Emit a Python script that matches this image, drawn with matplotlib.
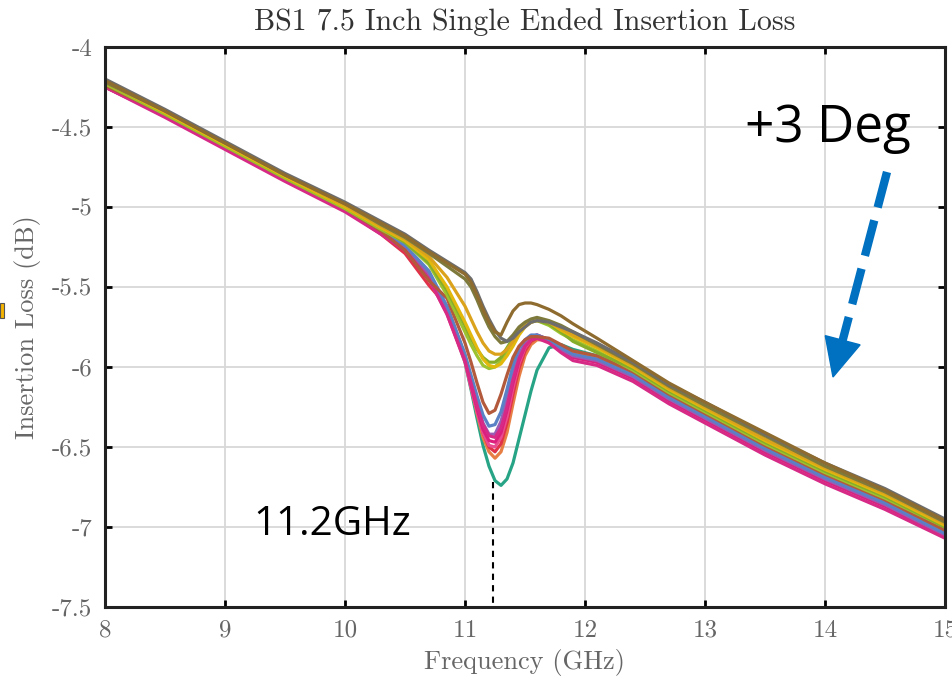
import matplotlib
matplotlib.use('Agg')
import matplotlib.pyplot as plt
from matplotlib.patches import Polygon, Rectangle
from matplotlib.lines import Line2D

plt.rcParams['axes.unicode_minus'] = False

# frequency grid (GHz), finer around the resonance dip
freq_ghz = [8.0, 8.5, 9.0, 9.5, 10.0, 10.3, 10.5, 10.7, 10.85, 11.0, 11.05, 11.1, 11.15,
            11.2, 11.25, 11.3, 11.35, 11.4, 11.45, 11.5, 11.55, 11.6, 11.7, 11.8, 11.9,
            12.1, 12.4, 12.7, 13.0, 13.5, 14.0, 14.5, 15.0]

# insertion loss curves (dB)
il_teal = [-4.23, -4.42, -4.62, -4.82, -5.01, -5.15, -5.25, -5.43, -5.65, -5.97, -6.14, -6.32, -6.49,
           -6.62, -6.71, -6.74, -6.70, -6.60, -6.45, -6.30, -6.15, -6.02, -5.88, -5.86, -5.89,
           -5.93, -6.03, -6.17, -6.29, -6.49, -6.67, -6.83, -7.02]
il_orange = [-4.24, -4.42, -4.62, -4.82, -5.01, -5.15, -5.25, -5.43, -5.65, -5.96, -6.12, -6.29, -6.44,
             -6.53, -6.57, -6.53, -6.41, -6.23, -6.06, -5.93, -5.86, -5.83, -5.83, -5.87, -5.91,
             -5.94, -6.04, -6.18, -6.30, -6.50, -6.68, -6.84, -7.03]
il_red = [-4.25, -4.43, -4.63, -4.83, -5.02, -5.17, -5.29, -5.49, -5.62, -5.93, -6.10, -6.26, -6.41,
          -6.50, -6.53, -6.48, -6.35, -6.17, -6.01, -5.90, -5.84, -5.82, -5.84, -5.88, -5.93,
          -5.96, -6.06, -6.20, -6.32, -6.52, -6.70, -6.86, -7.04]
il_pink = [-4.24, -4.43, -4.63, -4.83, -5.02, -5.16, -5.26, -5.45, -5.67, -5.97, -6.13, -6.28, -6.41,
           -6.49, -6.50, -6.44, -6.31, -6.13, -5.98, -5.88, -5.83, -5.81, -5.84, -5.89, -5.94,
           -5.97, -6.07, -6.21, -6.33, -6.53, -6.71, -6.87, -7.05]
il_magenta = [-4.25, -4.43, -4.63, -4.83, -5.02, -5.16, -5.26, -5.44, -5.66, -5.96, -6.11, -6.26, -6.39,
              -6.46, -6.47, -6.41, -6.27, -6.10, -5.96, -5.87, -5.82, -5.80, -5.83, -5.89, -5.94,
              -5.97, -6.07, -6.21, -6.33, -6.53, -6.71, -6.87, -7.06]
il_magenta2 = [-4.25, -4.44, -4.64, -4.84, -5.03, -5.17, -5.27, -5.45, -5.67, -5.96, -6.10, -6.24, -6.36,
               -6.43, -6.44, -6.38, -6.25, -6.08, -5.95, -5.87, -5.83, -5.82, -5.85, -5.91, -5.96,
               -5.99, -6.09, -6.23, -6.35, -6.55, -6.73, -6.89, -7.07]
il_purple = [-4.24, -4.43, -4.63, -4.83, -5.02, -5.16, -5.25, -5.42, -5.64, -5.94, -6.08, -6.22, -6.35,
             -6.42, -6.42, -6.34, -6.20, -6.04, -5.92, -5.85, -5.81, -5.80, -5.83, -5.89, -5.93,
             -5.96, -6.06, -6.20, -6.32, -6.52, -6.70, -6.86, -7.05]
il_blue = [-4.23, -4.42, -4.62, -4.82, -5.01, -5.15, -5.24, -5.40, -5.62, -5.92, -6.05, -6.18, -6.30,
           -6.37, -6.36, -6.28, -6.14, -5.99, -5.88, -5.83, -5.80, -5.80, -5.83, -5.88, -5.92,
           -5.95, -6.05, -6.19, -6.31, -6.51, -6.69, -6.85, -7.04]
il_brownred = [-4.24, -4.42, -4.62, -4.82, -5.01, -5.15, -5.27, -5.46, -5.57, -5.85, -5.97, -6.10, -6.22,
               -6.29, -6.27, -6.17, -6.05, -5.94, -5.87, -5.83, -5.81, -5.81, -5.82, -5.86, -5.90,
               -5.93, -6.03, -6.17, -6.29, -6.49, -6.67, -6.83, -7.02]
il_yellow = [-4.22, -4.41, -4.61, -4.81, -5.00, -5.13, -5.21, -5.33, -5.50, -5.72, -5.80, -5.88, -5.95,
             -5.99, -6.00, -5.98, -5.93, -5.87, -5.80, -5.75, -5.72, -5.70, -5.72, -5.77, -5.81,
             -5.88, -6.00, -6.14, -6.26, -6.46, -6.64, -6.80, -6.99]
il_ygreen = [-4.23, -4.42, -4.62, -4.82, -5.01, -5.14, -5.22, -5.36, -5.55, -5.78, -5.86, -5.93, -5.99,
             -6.01, -6.00, -5.96, -5.90, -5.83, -5.77, -5.73, -5.71, -5.71, -5.74, -5.79, -5.83,
             -5.90, -6.02, -6.16, -6.28, -6.48, -6.66, -6.82, -7.00]
il_greenolive = [-4.22, -4.41, -4.61, -4.81, -5.00, -5.13, -5.22, -5.35, -5.52, -5.74, -5.82, -5.89, -5.94,
                 -5.97, -5.97, -5.94, -5.88, -5.82, -5.77, -5.74, -5.72, -5.71, -5.73, -5.78, -5.84,
                 -5.91, -6.01, -6.15, -6.27, -6.47, -6.65, -6.81, -7.00]
il_gold = [-4.21, -4.40, -4.60, -4.80, -4.99, -5.12, -5.20, -5.31, -5.44, -5.62, -5.70, -5.78, -5.85,
           -5.90, -5.92, -5.92, -5.89, -5.84, -5.78, -5.74, -5.72, -5.71, -5.72, -5.76, -5.80,
           -5.87, -5.99, -6.13, -6.25, -6.45, -6.63, -6.79, -6.98]
il_darkolive = [-4.22, -4.40, -4.60, -4.80, -4.98, -5.11, -5.19, -5.29, -5.37, -5.45, -5.50, -5.58, -5.67,
                -5.75, -5.81, -5.85, -5.84, -5.80, -5.75, -5.72, -5.70, -5.69, -5.71, -5.74, -5.78,
                -5.86, -5.98, -6.12, -6.24, -6.43, -6.62, -6.78, -6.97]
il_gray = [-4.20, -4.39, -4.59, -4.79, -4.97, -5.09, -5.17, -5.27, -5.34, -5.41, -5.45, -5.53, -5.62,
           -5.70, -5.77, -5.82, -5.84, -5.82, -5.78, -5.75, -5.72, -5.71, -5.72, -5.75, -5.78,
           -5.85, -5.97, -6.11, -6.22, -6.42, -6.60, -6.76, -6.95]
il_brown = [-4.21, -4.40, -4.60, -4.80, -4.98, -5.10, -5.18, -5.28, -5.35, -5.42, -5.47, -5.55, -5.64,
            -5.72, -5.78, -5.80, -5.72, -5.65, -5.61, -5.60, -5.60, -5.61, -5.64, -5.68, -5.73,
            -5.82, -5.96, -6.10, -6.22, -6.41, -6.60, -6.77, -6.96]

curves = [
    (il_teal, '#27a486'),
    (il_orange, '#e77f45'),
    (il_red, '#e0334a'),
    (il_pink, '#ea4c92'),
    (il_magenta, '#dc1f7c'),
    (il_purple, '#9a5cb4'),
    (il_blue, '#5a80c6'),
    (il_magenta2, '#d62a86'),
    (il_brownred, '#b3593c'),
    (il_ygreen, '#9dc32f'),
    (il_greenolive, '#86ad2a'),
    (il_yellow, '#e2b80c'),
    (il_gold, '#dba21c'),
    (il_darkolive, '#7d7a3c'),
    (il_gray, '#6d6d6d'),
    (il_brown, '#8e6b2e'),
]

x_ticks = [8, 9, 10, 11, 12, 13, 14, 15]
y_ticks = [-7.5, -7, -6.5, -6, -5.5, -5, -4.5, -4]
y_ticklabels = ['-7.5', '-7', '-6.5', '-6', '-5.5', '-5', '-4.5', '-4']

W, H = 953, 681
def fxy(px, py):
    return px / W, 1 - py / H

fig = plt.figure(figsize=(W / 100, H / 100), dpi=100)
ax = fig.add_axes([105 / W, 1 - 607 / H, 840 / W, 560 / H])

for vals, col in curves:
    ax.plot(freq_ghz, vals, color=col, lw=2.3, solid_capstyle='round', solid_joinstyle='round')

ax.set_xlim(8, 15)
ax.set_ylim(-7.5, -4)
ax.set_xticks(x_ticks)
ax.set_xticklabels([str(t) for t in x_ticks])
ax.set_yticks(y_ticks)
ax.set_yticklabels(y_ticklabels)
ax.grid(True, color='#d8d8d8', lw=1.3)
ax.set_axisbelow(True)
for s in ax.spines.values():
    s.set_linewidth(2.2)
    s.set_color('#222222')
ax.tick_params(direction='in', length=5, width=2, top=True, right=True,
               labelsize=18, labelcolor='#666666', pad=9)
for lab in ax.get_xticklabels() + ax.get_yticklabels():
    lab.set_family('cmr10')

# 11.2 GHz marker
ax.plot([11.23, 11.23], [-6.72, -7.5], color='black', lw=1.5, ls=(0, (3, 2.5)), clip_on=False)

fig.text(*fxy(525, 22), 'BS1 7.5 Inch Single Ended Insertion Loss', family='cmr10',
         fontsize=21.5, color='#333333', ha='center', va='center')
fig.text(*fxy(525, 662), 'Frequency (GHz)', family='cmr10', fontsize=19,
         color='#666666', ha='center', va='center')
fig.text(*fxy(28, 327), 'Insertion Loss (dB)', family='cmr10', fontsize=19,
         color='#666666', ha='center', va='center', rotation=90)

fig.text(*fxy(745, 142), '+3 Deg', family='Open Sans', fontsize=37, color='black',
         ha='left', va='baseline')
fig.text(*fxy(253, 535), '11.2GHz', family='Open Sans', fontsize=29, color='black',
         ha='left', va='baseline')

# blue dashed arrow
x0, y0 = 887, 172
xt, yt = 833, 377
dx, dy = xt - x0, yt - y0
L = (dx ** 2 + dy ** 2) ** 0.5
ux, uy = dx / L, dy / L
hl, hw = 38, 36
bx, by = xt - ux * hl, yt - uy * hl
fig.add_artist(Line2D([fxy(x0, y0)[0], fxy(bx, by)[0]], [fxy(x0, y0)[1], fxy(bx, by)[1]],
                      transform=fig.transFigure, color='#0070c0', lw=6,
                      ls=(0, (4.4, 1.6)), solid_capstyle='butt', dash_capstyle='butt'))
head = [fxy(xt, yt), fxy(bx - uy * hw / 2, by + ux * hw / 2), fxy(bx + uy * hw / 2, by - ux * hw / 2)]
fig.add_artist(Polygon(head, closed=True, transform=fig.transFigure, color='#0070c0'))

# orange mark at the left edge
fig.add_artist(Rectangle(fxy(0, 318), 4 / W, 15 / H, transform=fig.transFigure,
                         facecolor='#f5b400', edgecolor='#555555', lw=0.8))

fig.savefig('out.png', dpi=100)
